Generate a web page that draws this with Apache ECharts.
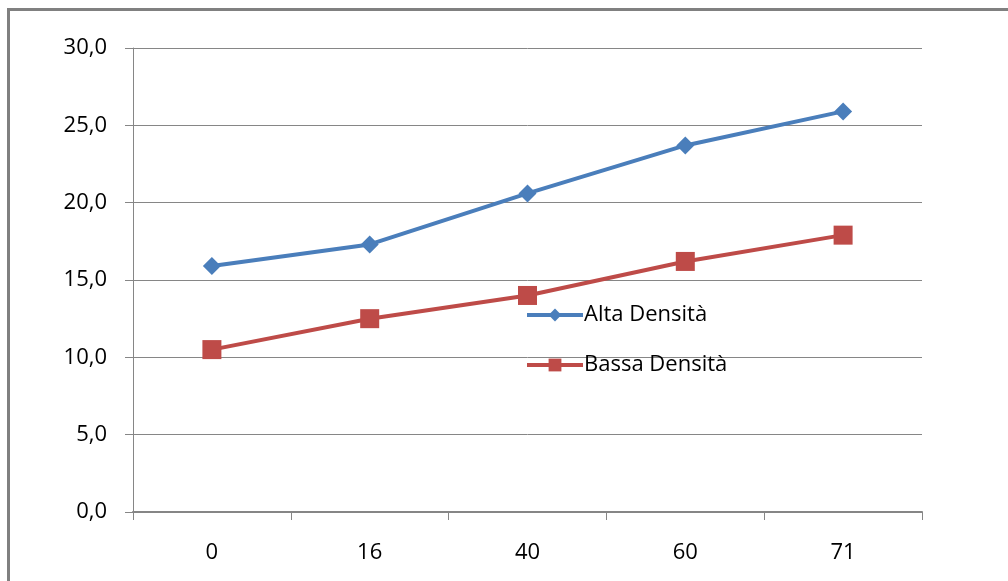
<!DOCTYPE html>
<html><head><meta charset="utf-8">
<script src="https://cdn.jsdelivr.net/npm/echarts@6/dist/echarts.min.js"></script>
<style>html,body{margin:0;padding:0;background:#fff}#c{width:1008px;height:581px}</style>
</head><body><div id="c"></div>
<script>
const categories = ['0', '16', '40', '60', '71'];
const altaDensita = [15.9, 17.3, 20.6, 23.7, 25.9];
const bassaDensita = [10.5, 12.5, 14.0, 16.2, 17.9];
const seriesNames = ['Alta Densità', 'Bassa Densità'];

const chart = echarts.init(document.getElementById('c'));
const font = '"Open Sans", Lato, sans-serif';
chart.setOption({
  animation: false,
  backgroundColor: '#fff',
  graphic: [{
    type: 'polyline',
    shape: { points: [[8.5, 600], [8.5, 9.5], [1020, 9.5]] },
    style: { stroke: '#808080', lineWidth: 3, fill: null }
  }],
  grid: { left: 133, right: 86, top: 48, bottom: 69 },
  legend: {
    orient: 'vertical',
    left: 520, top: 299,
    itemWidth: 56, itemHeight: 16, itemGap: 28,
    lineStyle: { width: 4 },
    textStyle: { fontFamily: font, fontSize: 22, color: '#000', padding: [0, 0, 0, -4] },
    data: seriesNames
  },
  xAxis: {
    type: 'category',
    data: categories,
    boundaryGap: true,
    axisLine: { lineStyle: { color: '#868686', width: 2 } },
    axisTick: { show: true, length: 8, lineStyle: { color: '#868686', width: 1 } },
    axisLabel: { fontFamily: font, fontSize: 22, color: '#000', margin: 30 }
  },
  yAxis: {
    type: 'value', min: 0, max: 30, interval: 5,
    axisLine: { show: true, lineStyle: { color: '#868686', width: 1 } },
    axisTick: { show: true, length: 8, lineStyle: { color: '#868686' } },
    splitLine: { lineStyle: { color: '#868686', width: 1 } },
    axisLabel: { fontFamily: font, fontSize: 22, color: '#000', margin: 26,
      formatter: v => v.toFixed(1).replace('.', ',') }
  },
  series: [
    { name: seriesNames[0], type: 'line', data: altaDensita,
      symbol: 'diamond', symbolSize: 18,
      itemStyle: { color: '#4a7ebb' }, lineStyle: { width: 4, color: '#4a7ebb' } },
    { name: seriesNames[1], type: 'line', data: bassaDensita,
      symbol: 'rect', symbolSize: 19,
      itemStyle: { color: '#be4b48' }, lineStyle: { width: 4, color: '#be4b48' } }
  ]
});
</script></body></html>
